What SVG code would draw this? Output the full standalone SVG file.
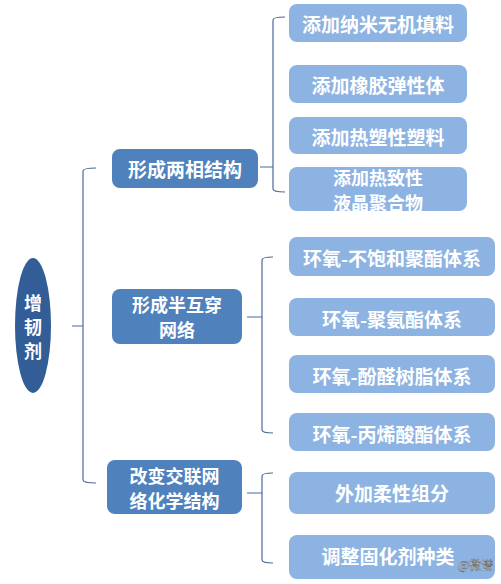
<svg xmlns="http://www.w3.org/2000/svg" width="501" height="584" viewBox="0 0 501 584">
<style>
.t{font-family:"Noto Sans CJK SC","Liberation Sans",sans-serif;font-weight:bold;font-size:19px;fill:#ffffff;text-anchor:middle;dominant-baseline:central}
.s{font-size:18px}
.l1{fill:#4f81bd}
.l2{fill:#8db3e2}
.c{fill:none;stroke:#4a6a9a;stroke-width:1.2}
</style>
<rect width="501" height="584" fill="#ffffff"/>
<g id="root">
<ellipse cx="33" cy="325.5" rx="18" ry="67.5" fill="#325d97"/>
<text class="t s" x="33" y="302">增</text>
<text class="t s" x="33" y="326">韧</text>
<text class="t s" x="33" y="350">剂</text>
</g>
<g id="connectors">
<path class="c" d="M96,168 Q83,168 83,171 L83,480 Q83,483 96,483 M72,326 L83,326"/>
<path class="c" d="M285,17 Q273,17 273,20 L273,189 Q273,192 285,192 M260,167 L273,167"/>
<path class="c" d="M273,257 Q262,257 262,260 L262,430 Q262,433 273,433 M247,317 L262,317"/>
<path class="c" d="M273,473 Q262,473 262,476 L262,560 Q262,563 273,563 M247,493 L262,493"/>
</g>
<g id="n1"><rect class="l1" x="112" y="149" width="146" height="39" rx="8"/><text class="t" x="185" y="168">形成两相结构</text></g>
<g id="n2"><rect class="l1" x="112" y="289" width="130" height="55" rx="8"/><text class="t s" x="177" y="304">形成半互穿</text><text class="t s" x="177" y="329">网络</text></g>
<g id="n3"><rect class="l1" x="107" y="460" width="135" height="54" rx="8"/><text class="t s" x="174.5" y="475">改变交联网</text><text class="t s" x="174.5" y="500">络化学结构</text></g>
<g id="a1"><rect class="l2" x="289" y="4" width="178" height="38" rx="8"/><text class="t" x="378" y="23">添加纳米无机填料</text></g>
<g id="a2"><rect class="l2" x="289" y="65" width="178" height="38" rx="8"/><text class="t" x="378" y="84">添加橡胶弹性体</text></g>
<g id="a3"><rect class="l2" x="289" y="117" width="178" height="37" rx="8"/><text class="t" x="378" y="136">添加热塑性塑料</text></g>
<g id="a4"><rect class="l2" x="289" y="167" width="178" height="44" rx="8"/><text class="t s" x="378" y="177">添加热致性</text><text class="t s" x="378" y="201.5">液晶聚合物</text></g>
<g id="b1"><rect class="l2" x="289" y="237" width="206" height="39" rx="8"/><text class="t" x="392" y="257">环氧-不饱和聚酯体系</text></g>
<g id="b2"><rect class="l2" x="289" y="298" width="206" height="38" rx="8"/><text class="t" x="392" y="318">环氧-聚氨酯体系</text></g>
<g id="b3"><rect class="l2" x="289" y="355" width="206" height="38" rx="8"/><text class="t" x="392" y="375">环氧-酚醛树脂体系</text></g>
<g id="b4"><rect class="l2" x="289" y="413" width="206" height="38" rx="8"/><text class="t" x="392" y="433">环氧-丙烯酸酯体系</text></g>
<g id="c1"><rect class="l2" x="289" y="472" width="206" height="42" rx="8"/><text class="t" x="392" y="492">外加柔性组分</text></g>
<g id="c2"><rect class="l2" x="289" y="535" width="206" height="44" rx="8"/><text class="t" x="388" y="555">调整固化剂种类</text></g>
<text x="458" y="570" font-family="Noto Sans CJK SC,Liberation Sans,sans-serif" font-size="12" fill="#ffffff" stroke="#555555" stroke-width="0.4">@微谱</text>
</svg>
